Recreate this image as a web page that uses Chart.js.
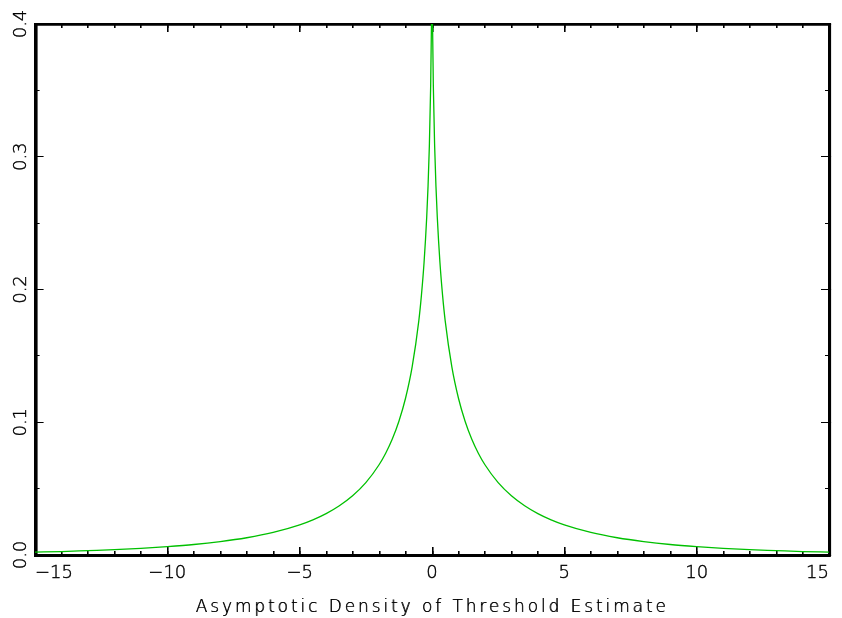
<!DOCTYPE html>
<html>
<head>
<meta charset="utf-8">
<script src="https://cdn.jsdelivr.net/npm/chart.js@4.4.1/dist/chart.umd.min.js"></script>
<style>
html,body{margin:0;padding:0;background:#fff;}
#wrap{width:842px;height:618px;}
</style>
</head>
<body>
<div id="wrap"><canvas id="c" width="842" height="618"></canvas></div>
<script>
// x positions (threshold estimate) and asymptotic density values
const xValues = [-15, -14, -13, -12, -11, -10, -9, -8, -7, -6, -5, -4.5, -4, -3.5, -3, -2.5, -2, -1.75, -1.5, -1.25, -1, -0.75, -0.5, -0.4, -0.3, -0.2, -0.15, -0.1, -0.05, -0.02, -0.01,
  0,
  0.01, 0.02, 0.05, 0.1, 0.15, 0.2, 0.3, 0.4, 0.5, 0.75, 1, 1.25, 1.5, 1.75, 2, 2.5, 3, 3.5, 4, 4.5, 5, 6, 7, 8, 9, 10, 11, 12, 13, 14, 15];
const densityValues = [0.0022, 0.0026, 0.0033, 0.0040, 0.0050, 0.0063, 0.0079, 0.0101, 0.0130, 0.0170, 0.0227, 0.0265, 0.0312, 0.0371, 0.0446, 0.0545, 0.0680, 0.0767, 0.0874, 0.1008, 0.1181, 0.1417, 0.1762, 0.1956, 0.2204, 0.2544, 0.2775, 0.3080, 0.3536, 0.4007, 0.4272,
  0.5,
  0.4272, 0.4007, 0.3536, 0.3080, 0.2775, 0.2544, 0.2204, 0.1956, 0.1762, 0.1417, 0.1181, 0.1008, 0.0874, 0.0767, 0.0680, 0.0545, 0.0446, 0.0371, 0.0312, 0.0265, 0.0227, 0.0170, 0.0130, 0.0101, 0.0079, 0.0063, 0.0050, 0.0040, 0.0033, 0.0026, 0.0022];

const xTickValues = [-15, -10, -5, 0, 5, 10, 15];
const xTickLabels = ['\u221215', '\u221210', '\u22125', '0', '5', '10', '15'];
const yTickValues = [0, 0.1, 0.2, 0.3, 0.4];
const yTickLabels = ['0.0', '0.1', '0.2', '0.3', '0.4'];
const xTitle = 'Asymptotic Density of Threshold Estimate';

const points = xValues.map((x, i) => ({x: x, y: densityValues[i]}));

const FONT = 'DejaVu Sans';
const WEIGHT = '200';

function labelFrom(values, labels, v) {
  for (let i = 0; i < values.length; i++) {
    if (Math.abs(values[i] - v) < 1e-6) return labels[i];
  }
  return '';
}

// wide letter spacing and a slight thickening for the axis title (drawn before the datasets)
const spacingPlugin = {
  id: 'spacing',
  beforeDraw(chart) {
    const c = chart.ctx;
    c.letterSpacing = '2.9px';
    c.shadowColor = '#000';
    c.shadowBlur = 0;
    c.shadowOffsetX = 0.6;
    c.shadowOffsetY = 0;
  },
  beforeDatasetsDraw(chart) {
    const c = chart.ctx;
    c.letterSpacing = '0px';
    c.shadowColor = 'rgba(0,0,0,0)';
    c.shadowOffsetX = 0;
  }
};

function tickAxis(axis, position, min, max, step, len, weight, borderOn, borderWidth) {
  return {
    type: 'linear', axis: axis, position: position, min: min, max: max, weight: weight,
    ticks: {display: false, stepSize: step, autoSkip: false, padding: 0},
    grid: {drawOnChartArea: false, drawTicks: true, tickLength: len, tickColor: '#000', tickWidth: 1},
    border: {display: borderOn, color: '#000', width: borderWidth},
    afterFit: (s) => { if (axis === 'x') s.height = 0; else s.width = 0; }
  };
}

new Chart(document.getElementById('c'), {
  type: 'line',
  data: {
    datasets: [{
      data: points,
      borderColor: '#00c000',
      borderWidth: 1.3,
      pointRadius: 0,
      fill: false,
      cubicInterpolationMode: 'monotone',
      clip: 0
    }]
  },
  options: {
    responsive: false,
    animation: false,
    devicePixelRatio: 1,
    layout: {padding: {top: 24, right: 13, left: 0, bottom: 0}},
    plugins: {legend: {display: false}, tooltip: {enabled: false}},
    scales: {
      x: {
        type: 'linear', position: 'bottom', min: -15, max: 15, weight: 0,
        ticks: {
          stepSize: 5, autoSkip: false, maxRotation: 0, minRotation: 0, align: 'inner',
          padding: 13, color: '#000', z: 1, textStrokeColor: '#000', textStrokeWidth: 0.4,
          font: {family: FONT, size: 18, weight: WEIGHT, lineHeight: 1.5},
          callback: (v) => labelFrom(xTickValues, xTickLabels, v)
        },
        grid: {drawOnChartArea: false, drawTicks: true, tickLength: -8, tickColor: '#000', tickWidth: 1},
        border: {display: true, color: '#000', width: 3},
        title: {display: true, text: xTitle, color: '#000', font: {family: FONT, size: 17, weight: WEIGHT}, padding: {top: 0, bottom: 0}},
        afterFit: (s) => { s.height = 63; }
      },
      xMinor: tickAxis('x', 'bottom', -15, 15, 1, -4, -1, false, 0),
      xTop: tickAxis('x', 'top', -15, 15, 5, -8, 0, true, 2.5),
      xTopMinor: tickAxis('x', 'top', -15, 15, 1, -4, -1, false, 0),
      y: {
        type: 'linear', position: 'left', min: 0, max: 0.4, weight: 0,
        ticks: {
          stepSize: 0.1, autoSkip: false, minRotation: 90, maxRotation: 90, crossAlign: 'center',
          padding: 7, color: '#000', z: 1, textStrokeColor: '#000', textStrokeWidth: 0.4,
          font: {family: FONT, size: 18, weight: WEIGHT},
          callback: (v) => labelFrom(yTickValues, yTickLabels, v)
        },
        grid: {drawOnChartArea: false, drawTicks: true, tickLength: -8, tickColor: '#000', tickWidth: 1},
        border: {display: true, color: '#000', width: 3},
        afterFit: (s) => { s.width = 35; }
      },
      yMinor: tickAxis('y', 'left', 0, 0.4, 0.05, -4, -1, false, 0),
      yRight: tickAxis('y', 'right', 0, 0.4, 0.1, -8, 0, true, 2.5),
      yRightMinor: tickAxis('y', 'right', 0, 0.4, 0.05, -4, -1, false, 0)
    }
  },
  plugins: [spacingPlugin]
});
</script>
</body>
</html>
